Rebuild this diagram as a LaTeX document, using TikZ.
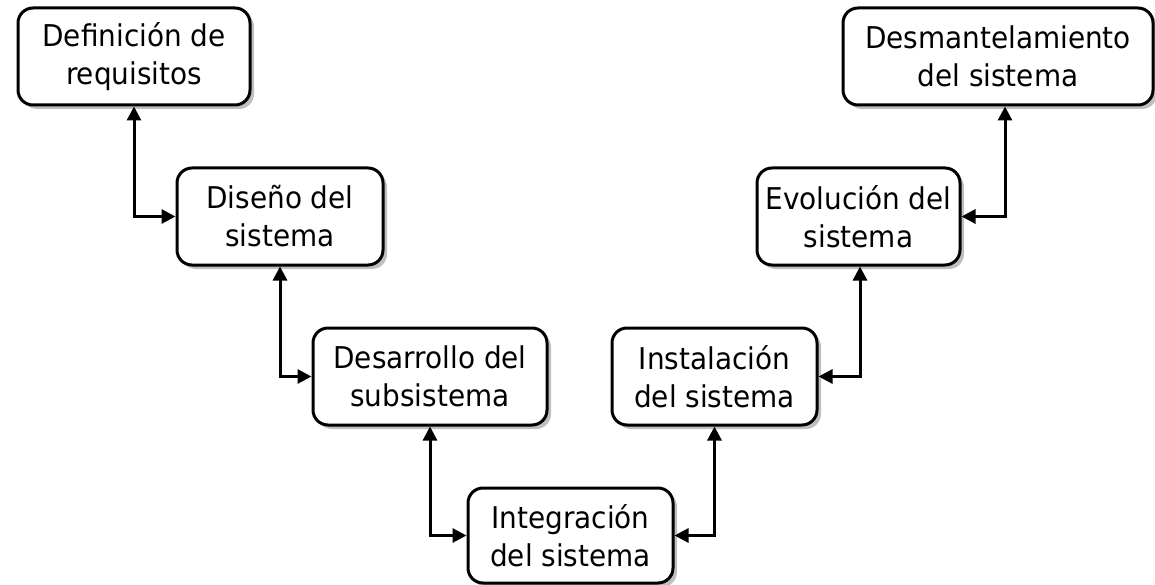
\documentclass[tikz,border=0pt]{standalone}
\usepackage{fontspec}
\setmainfont{DejaVu Sans}[FakeStretch=0.93]
\usetikzlibrary{arrows.meta,shadows}
\begin{document}
\begin{tikzpicture}[x=1pt,y=-1pt,
  stage/.style={draw=black, line width=3pt, rounded corners=15pt, fill=white,
    align=center, inner sep=0pt, minimum height=97pt,
    font=\fontsize{30}{38}\selectfont,
    drop shadow={shadow xshift=4pt, shadow yshift=-4pt, fill=black!25, opacity=1}},
  link/.style={line width=3pt, {Triangle[length=14pt,width=14pt]}-{Triangle[length=14pt,width=14pt]}}
]
\useasboundingbox (0,0) rectangle (1155,585);
\node[stage, minimum width=232pt] (req) at (134,56.5) {Definición de\\requisitos};
\node[stage, minimum width=206pt] (dis) at (280,216.5) {Diseño del\\sistema};
\node[stage, minimum width=234pt] (des) at (430,376.5) {Desarrollo del\\subsistema};
\node[stage, minimum width=205pt, minimum height=95pt] (int) at (570.5,535.5) {Integración\\del sistema};
\node[stage, minimum width=205pt] (ins) at (714.5,376.5) {Instalación\\del sistema};
\node[stage, minimum width=203pt] (evo) at (858.5,216.5) {Evolución del\\sistema};
\node[stage, minimum width=310pt] (dsm) at (998,56.5) {Desmantelamiento\\del sistema};
\draw[link] (req.south) |- (dis.west);
\draw[link] (dis.south) |- (des.west);
\draw[link] (des.south) |- (int.west);
\draw[link] (ins.south) |- (int.east);
\draw[link] ([xshift=1.5pt]evo.south) |- (ins.east);
\draw[link] ([xshift=7pt]dsm.south) |- (evo.east);
\end{tikzpicture}
\end{document}
